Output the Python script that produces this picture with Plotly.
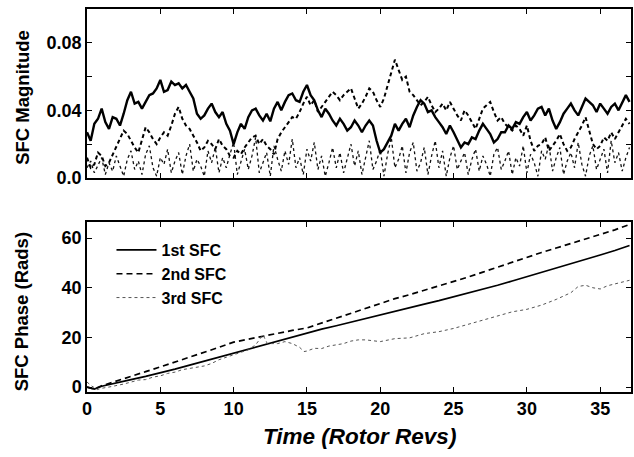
import plotly.graph_objects as go

# ---------------- data ----------------
t_mag = [0, 0.25, 0.5, 0.75, 1, 1.25, 1.5, 1.75, 2, 2.25, 2.5, 2.75, 3, 3.25, 3.5, 3.75,
         4, 4.25, 4.5, 4.75, 5, 5.25, 5.5, 5.75, 6, 6.25, 6.5, 6.75, 7, 7.25, 7.5, 7.75,
         8, 8.25, 8.5, 8.75, 9, 9.25, 9.5, 9.75, 10, 10.25, 10.5, 10.75, 11, 11.25, 11.5, 11.75,
         12, 12.25, 12.5, 12.75, 13, 13.25, 13.5, 13.75, 14, 14.25, 14.5, 14.75, 15, 15.25, 15.5, 15.75,
         16, 16.25, 16.5, 16.75, 17, 17.25, 17.5, 17.75, 18, 18.25, 18.5, 18.75, 19, 19.25, 19.5, 19.75,
         20, 20.25, 20.5, 20.75, 21, 21.25, 21.5, 21.75, 22, 22.25, 22.5, 22.75, 23, 23.25, 23.5, 23.75,
         24, 24.25, 24.5, 24.75, 25, 25.25, 25.5, 25.75, 26, 26.25, 26.5, 26.75, 27, 27.25, 27.5, 27.75,
         28, 28.25, 28.5, 28.75, 29, 29.25, 29.5, 29.75, 30, 30.25, 30.5, 30.75, 31, 31.25, 31.5, 31.75,
         32, 32.25, 32.5, 32.75, 33, 33.25, 33.5, 33.75, 34, 34.25, 34.5, 34.75, 35, 35.25, 35.5, 35.75,
         36, 36.25, 36.5, 36.75, 37]

mag_1st = [0.027, 0.022, 0.032, 0.035, 0.041, 0.033, 0.029, 0.036, 0.035, 0.031,
           0.038, 0.046, 0.051, 0.044, 0.045, 0.041, 0.045, 0.049, 0.050, 0.053,
           0.058, 0.051, 0.052, 0.057, 0.055,
           0.056, 0.053, 0.055, 0.051, 0.047, 0.038, 0.035, 0.037, 0.041, 0.044,
           0.039, 0.036, 0.039, 0.032, 0.028, 0.020, 0.027, 0.032, 0.029, 0.036,
           0.040, 0.041, 0.037, 0.034,
           0.038, 0.0335, 0.041, 0.045, 0.040, 0.045, 0.049, 0.050, 0.046, 0.045,
           0.051, 0.055, 0.049, 0.046, 0.040, 0.036, 0.041, 0.038, 0.034, 0.031,
           0.035, 0.032, 0.028, 0.030, 0.034, 0.031,
           0.027, 0.031, 0.034, 0.031, 0.022, 0.015, 0.017, 0.021, 0.025, 0.032,
           0.028, 0.032, 0.035, 0.030, 0.037, 0.042, 0.046, 0.044, 0.039, 0.040,
           0.036, 0.033, 0.030, 0.026,
           0.031, 0.027, 0.022, 0.018, 0.021, 0.020, 0.024, 0.023, 0.028, 0.032,
           0.029, 0.026, 0.021, 0.023, 0.027, 0.027, 0.031, 0.029, 0.033, 0.032,
           0.036, 0.039, 0.034, 0.037, 0.041, 0.042,
           0.037, 0.041, 0.034, 0.029, 0.033, 0.038, 0.041, 0.044, 0.040, 0.037,
           0.042, 0.047, 0.045, 0.043, 0.039, 0.044, 0.041, 0.038, 0.042, 0.044,
           0.040, 0.045, 0.049, 0.045]

mag_2nd = [0.012, 0.006, 0.008, 0.015, 0.013, 0.007, 0.009, 0.014, 0.019, 0.024,
           0.028, 0.026, 0.022, 0.018, 0.015, 0.022, 0.030, 0.027, 0.023, 0.020,
           0.024, 0.027, 0.025, 0.031, 0.038,
           0.042, 0.035, 0.031, 0.029, 0.025, 0.021, 0.016, 0.018, 0.022, 0.020,
           0.017, 0.023, 0.019, 0.017, 0.013, 0.012, 0.016, 0.014, 0.018, 0.021,
           0.024, 0.025, 0.020, 0.023,
           0.019, 0.017, 0.014, 0.023, 0.027, 0.030, 0.033, 0.036, 0.035, 0.039,
           0.044, 0.048, 0.043, 0.046, 0.039, 0.042, 0.045, 0.048, 0.051, 0.049,
           0.046, 0.049, 0.051, 0.053, 0.047, 0.041,
           0.044, 0.048, 0.053, 0.051, 0.046, 0.042, 0.047, 0.055, 0.063, 0.070,
           0.064, 0.058, 0.060, 0.051, 0.049, 0.046, 0.043, 0.045, 0.048, 0.043,
           0.039, 0.041, 0.044, 0.040,
           0.045, 0.041, 0.037, 0.034, 0.040, 0.037, 0.033, 0.029, 0.035, 0.041,
           0.043, 0.045, 0.039, 0.034, 0.036, 0.032, 0.030, 0.028, 0.031, 0.029,
           0.025, 0.031, 0.022, 0.016, 0.019, 0.020,
           0.024, 0.016, 0.019, 0.022, 0.026, 0.020, 0.016, 0.018, 0.023, 0.027,
           0.031, 0.036, 0.028, 0.020, 0.017, 0.019, 0.024, 0.022, 0.027, 0.023,
           0.027, 0.031, 0.035, 0.032]

mag_3rd = [0.006, 0.010, 0.003, 0.008, 0.012, 0.002, 0.009, 0.004,
           0.013, 0.007, 0.001, 0.011, 0.016, 0.005, 0.010, 0.002,
           0.014, 0.019, 0.006, 0.001, 0.012, 0.008, 0.017, 0.003,
           0.010, 0.015, 0.002, 0.013, 0.020, 0.004, 0.011, 0.007,
           0.001, 0.016, 0.009, 0.018, 0.003, 0.012, 0.006, 0.014,
           0.021, 0.002, 0.010, 0.017, 0.005, 0.013, 0.024, 0.003,
           0.009, 0.015, 0.001, 0.019, 0.011, 0.004, 0.016, 0.008,
           0.023, 0.006, 0.012, 0.002, 0.017, 0.010, 0.021, 0.005,
           0.013, 0.001, 0.009, 0.018, 0.006, 0.015, 0.003, 0.011,
           0.020, 0.007, 0.016, 0.002, 0.012, 0.022, 0.005, 0.010,
           0.017, 0.001, 0.014, 0.024, 0.006, 0.011, 0.019, 0.003,
           0.015, 0.021, 0.004, 0.009, 0.018, 0.002, 0.013, 0.022,
           0.006, 0.016, 0.001, 0.012, 0.019, 0.005, 0.010, 0.015,
           0.002, 0.011, 0.017, 0.004, 0.013, 0.008, 0.001, 0.014,
           0.018, 0.005, 0.010, 0.016, 0.002, 0.012, 0.007, 0.019,
           0.003, 0.014, 0.009, 0.001, 0.016, 0.011, 0.020, 0.004,
           0.012, 0.018, 0.002, 0.010, 0.015, 0.006, 0.021, 0.008,
           0.001, 0.013, 0.019, 0.005, 0.011, 0.017, 0.003, 0.022,
           0.009, 0.015, 0.004, 0.012, 0.018]

t_phase = [0, 0.5, 1, 2, 3, 4, 5, 6, 7, 8, 9, 10, 11, 12, 13, 14, 15, 16, 17, 18, 19,
           20, 21, 22, 23, 24, 25, 26, 27, 28, 29, 30, 31, 32, 33, 34, 35, 36, 37]
phase_1st = [0, -0.8, 0.3, 1.8, 3.0, 4.3, 5.6, 7.2, 8.8, 10.4, 12.0, 13.7, 15.3, 16.9, 18.6,
             20.3, 21.8, 23.3, 24.7, 26.2, 27.6, 29.0, 30.5, 31.9, 33.4, 34.8, 36.3, 37.9,
             39.4, 41.0, 42.7, 44.4, 46.1, 47.8, 49.6, 51.4, 53.2, 55.0, 57.0]
phase_2nd = [0, -0.8, 0.5, 2.5, 4.4, 6.2, 8.1, 10.0, 12.0, 14.0, 16.0, 18.1, 19.3, 20.6, 21.8,
             22.8, 23.8, 25.8, 27.8, 29.8, 31.9, 33.9, 35.6, 37.2, 38.9, 40.6, 42.3, 44.3,
             46.3, 48.3, 50.4, 52.4, 54.2, 56.0, 57.8, 59.5, 61.3, 63.3, 65.5]

t_phase3 = [0, 0.3, 0.7, 1, 1.5, 2, 2.5, 3, 3.5, 4, 4.5, 5, 5.5, 6, 6.5, 7, 7.5, 8, 8.5, 9,
            9.5, 10, 10.5, 11, 11.5, 12, 12.3, 13, 13.5, 14, 14.5, 14.8, 15, 15.5, 16, 16.5,
            17, 17.5, 18, 18.5, 19, 19.5, 20, 21, 22, 23, 24, 25, 26, 27, 28, 29, 30, 31, 32,
            33, 33.5, 34, 34.5, 35, 35.5, 36, 36.5, 37]
phase_3rd = [2, 0.5, -1, -0.5, 0, 0.5, 1.2, 2, 2.8, 3, 4, 4.5, 5.5, 6, 7, 7.5, 8, 8.5, 9.5, 11,
             12, 13, 13.8, 15, 17, 21, 17.5, 17.5, 18.3, 17.5, 16, 14.3, 14.5, 15.6, 15.5, 16.5,
             17, 17.5, 18.5, 19, 19, 18.6, 18.3, 19.5, 19.8, 21.5, 22.3, 23.6, 25.3, 26.8, 28.8,
             30.3, 31.3, 33, 35.3, 38, 40.5, 41, 40, 39.5, 40.8, 41.5, 42, 43]

series_names = ["1st SFC", "2nd SFC", "3rd SFC"]
x_ticks = [0, 5, 10, 15, 20, 25, 30, 35]
mag_ticks = [0, 0.02, 0.04, 0.06, 0.08]
mag_ticktext = ["0.0", "", "0.04", "", "0.08"]
phase_ticks = [0, 20, 40, 60]

assert len(t_mag) == len(mag_1st) == len(mag_2nd) == len(mag_3rd)
assert len(t_phase) == len(phase_1st) == len(phase_2nd)
assert len(t_phase3) == len(phase_3rd)

# ---------------- figure ----------------
FONT = "Liberation Sans, Arial, Helvetica, sans-serif"

fig = go.Figure()

# top panel (magnitudes)
fig.add_trace(go.Scatter(x=t_mag, y=mag_3rd, mode="lines", xaxis="x2", yaxis="y2",
                         line=dict(color="#111", width=1.3, dash="dot"), showlegend=False))
fig.add_trace(go.Scatter(x=t_mag, y=mag_2nd, mode="lines", xaxis="x2", yaxis="y2",
                         line=dict(color="black", width=2.0, dash="4px,3px"), showlegend=False))
fig.add_trace(go.Scatter(x=t_mag, y=mag_1st, mode="lines", xaxis="x2", yaxis="y2",
                         line=dict(color="black", width=2.4), showlegend=False))

# bottom panel (phases)
fig.add_trace(go.Scatter(x=t_phase, y=phase_1st, mode="lines", name=series_names[0],
                         line=dict(color="black", width=1.7)))
fig.add_trace(go.Scatter(x=t_phase, y=phase_2nd, mode="lines", name=series_names[1],
                         line=dict(color="black", width=1.7, dash="6px,4px")))
fig.add_trace(go.Scatter(x=t_phase3, y=phase_3rd, mode="lines", name=series_names[2],
                         line=dict(color="#555", width=1, dash="dot")))

axis_common = dict(showline=True, linecolor="black", linewidth=1.5, mirror="ticks",
                   ticks="inside", ticklen=5, tickcolor="black", tickwidth=1.2,
                   showgrid=False, zeroline=False,
                   tickfont=dict(family=FONT, size=18, color="black", weight="bold"))

fig.update_layout(
    width=634, height=457,
    margin=dict(l=87, r=1, t=9, b=65),
    paper_bgcolor="white", plot_bgcolor="white",
    xaxis=dict(domain=[0, 1], range=[0, 37.1], tickvals=x_ticks, anchor="y", **axis_common),
    yaxis=dict(domain=[0, 0.444], range=[-2, 66.5], tickvals=phase_ticks, anchor="x", **axis_common),
    xaxis2=dict(domain=[0, 1], range=[0, 37.1], tickvals=x_ticks, showticklabels=False,
                anchor="y2", matches="x", **axis_common),
    yaxis2=dict(domain=[0.559, 1], range=[0, 0.1], tickvals=mag_ticks, ticktext=mag_ticktext,
                anchor="x2", **axis_common),
    legend=dict(x=0.045, y=0.415, xanchor="left", yanchor="top", bgcolor="rgba(0,0,0,0)",
                font=dict(family=FONT, size=16, color="black", weight="bold"),
                tracegroupgap=0, itemwidth=40),
    annotations=[
        dict(text="SFC Magnitude", xref="paper", yref="paper", x=-0.12, y=0.77,
             xanchor="center", yanchor="middle", textangle=-90, showarrow=False,
             font=dict(family=FONT, size=18.5, color="black", weight="bold")),
        dict(text="SFC Phase (Rads)", xref="paper", yref="paper", x=-0.12, y=0.21,
             xanchor="center", yanchor="middle", textangle=-90, showarrow=False,
             font=dict(family=FONT, size=18.5, color="black", weight="bold")),
        dict(text="Time (Rotor Revs)", xref="paper", yref="paper", x=0.5, y=-0.117,
             xanchor="center", yanchor="middle", showarrow=False,
             font=dict(family=FONT, size=22.5, color="black", weight="bold", style="italic")),
    ],
)

fig.write_html("out.html")
